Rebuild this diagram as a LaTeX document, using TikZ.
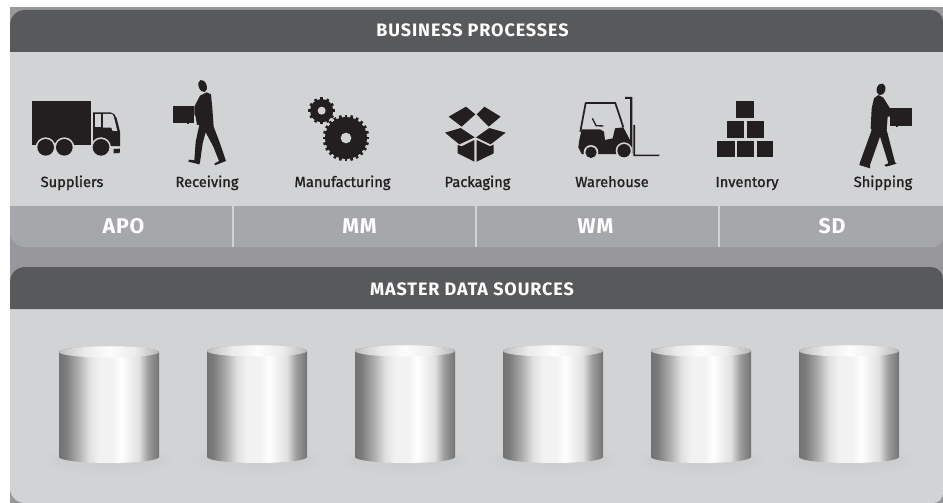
\documentclass[tikz,border=0pt]{standalone}
\usepackage{fontspec}
\setmainfont{Fira Sans}
\newfontfamily\headfont[LetterSpace=5.0]{Fira Sans}
\newfontfamily\tabfont[LetterSpace=4.0]{Fira Sans}
\newfontfamily\labelfont[FakeBold=1.2]{Fira Sans}
\definecolor{dkpanel}{HTML}{58595B}
\definecolor{ltpanel}{HTML}{D2D3D5}
\definecolor{tabband}{HTML}{A6A7AA}
\definecolor{gapgray}{HTML}{98989C}
\definecolor{ink}{HTML}{231F20}
\pgfdeclarehorizontalshading{cylbody}{100bp}{color(0bp)=(black!55);color(25bp)=(black!55);color(28bp)=(black!52);color(35bp)=(black!30);color(40bp)=(black!12);color(45bp)=(black!5);color(51.5bp)=(black!5);color(56bp)=(white);color(65bp)=(black!12);color(69.5bp)=(black!38);color(75bp)=(black!55);color(100bp)=(black!55)}
\pgfdeclarehorizontalshading{cyltop}{100bp}{color(0bp)=(black!25);color(25bp)=(black!25);color(37.5bp)=(black!8);color(50bp)=(black!1);color(62.5bp)=(black!7);color(75bp)=(black!28);color(100bp)=(black!28)}
\tikzset{
  headlabel/.style={text=white,font=\fontsize{13.5pt}{15pt}\headfont\bfseries,inner sep=0pt,anchor=base},
  tablabel/.style={text=white,font=\fontsize{16pt}{18pt}\tabfont\bfseries,inner sep=0pt,anchor=base},
  iconlabel/.style={text=ink,font=\fontsize{11pt}{13pt}\labelfont,inner sep=0pt,anchor=base},
  tabsep/.style={draw=ltpanel,line width=1.9pt},
  icon/.style={fill=ink,draw=none},
  ring/.style={fill=ltpanel,draw=none},
  zoomed/.style={x=.25pt,y=-.25pt},
}
\newcommand{\cylinder}[2]{%
  \fill[black,opacity=.004] (#1+50,460) ellipse [x radius=66,y radius=18];
  \fill[black,opacity=.004] (#1+50,460) ellipse [x radius=62,y radius=15];
  \fill[black,opacity=.005] (#1+50,460) ellipse [x radius=58,y radius=12];
  \fill[black,opacity=.006] (#1+50,460) ellipse [x radius=54,y radius=9];
  \path[shading=cylbody] (#1,#2) -- (#1,457) arc [start angle=180,end angle=360,x radius=50,y radius=-6] -- (#1+100,#2) arc [start angle=0,end angle=180,x radius=50,y radius=-5.5] -- cycle;
  \path[shading=cyltop] (#1+50,#2) ellipse [x radius=50,y radius=5.6];
}
\begin{document}
\begin{tikzpicture}[x=.75pt,y=-.75pt]
\useasboundingbox (0,0) rectangle (943,503);
\fill[white] (0,0) rectangle (943,503);
\fill[gapgray] (10,7) rectangle (943,503);
% top panel
\fill[tabband] (10,200) -- (10,232) arc [start angle=180,end angle=270,x radius=15,y radius=-15] -- (933,247) arc [start angle=270,end angle=360,x radius=10,y radius=-10] -- (943,200) -- cycle;
\fill[ltpanel] (10,50) rectangle (943,206);
\fill[dkpanel] (10,52) -- (10,25) arc [start angle=180,end angle=90,x radius=15,y radius=-15] -- (931,10) arc [start angle=90,end angle=0,x radius=12,y radius=-12] -- (943,52) -- cycle;
\foreach \sx in {233,476,719} \draw[tabsep] (\sx,206) -- (\sx,247);
% bottom panel
\fill[ltpanel] (10,305) -- (10,488) arc [start angle=180,end angle=270,x radius=15,y radius=-15] -- (933,503) arc [start angle=270,end angle=360,x radius=10,y radius=-10] -- (943,305) -- cycle;
\fill[dkpanel] (10,309) -- (10,282) arc [start angle=180,end angle=90,x radius=15,y radius=-15] -- (931,267) arc [start angle=90,end angle=0,x radius=12,y radius=-12] -- (943,309) -- cycle;
% labels
\node[headlabel] (bp) at (472.5,37) {BUSINESS PROCESSES};
\node[headlabel] (md) at (472,295.5) {MASTER DATA SOURCES};
\node[tablabel] (apo) at (123.5,233) {APO};
\node[tablabel] (mm) at (359.5,233) {MM};
\node[tablabel] (wm) at (595.5,233) {WM};
\node[tablabel] (sd) at (832,233) {SD};
\node[iconlabel] (l1) at (72,187) {Suppliers};
\node[iconlabel] (l2) at (207,187) {Receiving};
\node[iconlabel] (l3) at (342.5,187) {Manufacturing};
\node[iconlabel] (l4) at (477.5,187) {Packaging};
\node[iconlabel] (l5) at (612,187) {Warehouse};
\node[iconlabel] (l6) at (747,187) {Inventory};
\node[iconlabel] (l7) at (883,187) {Shipping};
% cylinders
\cylinder{59}{352}
\cylinder{207}{351}
\cylinder{355}{351}
\cylinder{503}{351}
\cylinder{651}{351}
\cylinder{799}{351}
% truck
\begin{scope}[shift={(20,90)},zoomed]
\fill[icon] (37,34) rectangle (213,165);
\fill[icon] (219,67) -- (272,67) to[out=0,in=120] (290,85) -- (300,125) -- (300,168) -- (219,168) -- cycle;
\fill[ltpanel] (226,72) rectangle (244,112);
\fill[ltpanel] (249,72) -- (274,72) to[out=0,in=120] (284,90) -- (292,123) -- (278,123) -- (274,113) -- (249,113) -- cycle;
\fill[icon] (281,177) -- (300,176) -- (299,189) -- (281,190) -- cycle;
\foreach \wx in {77,133,243} {
  \fill[ring] (\wx,172) circle [radius=30];
  \fill[icon] (\wx,172) circle [radius=25];
}
\end{scope}
% receiving person
\begin{scope}[shift={(165,75)},zoomed]
\fill[icon] (24,92) rectangle (88,143);
\fill[icon] (66,143) rectangle (71,147);
\fill[icon,rotate around={20:(113,33)}] (113,33) ellipse [x radius=12,y radius=19];
\fill[icon] (105,62) -- (125,52) -- (138,58) -- (142,100) -- (146,155) -- (165,205) -- (183,258) -- (170,263) -- (150,271) -- (148,266) -- (162,258) -- (145,215) -- (122,172) -- (113,205) -- (105,262) -- (103,268) -- (70,260) -- (72,254) -- (88,256) -- (92,200) -- (103,150) -- (96,150) -- (92,125) -- (88,118) -- (88,95) -- cycle;
\end{scope}
% gears
\begin{scope}[shift={(280,80)},zoomed]
\fill[icon] (125,92) circle [radius=35];
\foreach \ga in {0,30,...,330} \draw[ink,line width=2pt] (125,92) ++(\ga:30) -- ++(\ga:10);
\fill[ltpanel] (125,92) circle [radius=12];
\fill[icon] (198,174) circle [radius=63];
\foreach \ga in {0,15,...,345} \draw[ink,line width=2pt] (198,174) ++(\ga:58) -- ++(\ga:12);
\fill[ltpanel] (198,174) circle [radius=16];
\end{scope}
% box
\begin{scope}[shift={(440,100)},zoomed]
\fill[icon] (78,20) -- (106,43) -- (65,80) -- (26,50) -- cycle;
\fill[icon] (133,20) -- (182,50) -- (146,80) -- (110,43) -- cycle;
\fill[icon] (62,84) -- (104,112) -- (58,133) -- (15,98) -- cycle;
\fill[icon] (148,84) -- (197,98) -- (152,133) -- (108,112) -- cycle;
\fill[icon] (53,135) -- (65,139) -- (103,120) -- (103,185) -- (53,160) -- cycle;
\fill[icon] (110,120) -- (150,139) -- (161,134) -- (161,160) -- (110,185) -- cycle;
\end{scope}
% forklift
\begin{scope}[shift={(570,90)},zoomed]
\fill[icon] (165,21) -- (187,21) -- (187,190) -- (180,190) -- (180,27) -- (165,27) -- cycle;
\fill[icon] (190,105) -- (195,105) -- (195,194) -- (268,194) -- (268,198) -- (190,198) -- cycle;
\draw[ink,line width=1.3pt,line join=round] (31,125) -- (47,39) -- (136,39) -- (160,112);
\draw[ink,line width=1pt] (67,85) -- (78,107) -- (100,108);
\fill[icon] (28,150) -- (35,118) -- (90,118) -- (102,125) -- (105,150) -- (128,145) -- (135,115) -- (160,112) -- (180,150) -- (180,192) -- (35,192) -- (25,172) -- cycle;
\fill[ring] (63,187) circle [radius=22];
\fill[icon] (63,187) circle [radius=17];
\fill[ring] (162,182) circle [radius=25];
\fill[icon] (162,182) circle [radius=20];
\end{scope}
% inventory
\begin{scope}[shift={(680,0)},zoomed]
\fill[icon] (169,304) rectangle (221,355);
\fill[icon] (142,362) rectangle (193,414);
\fill[icon] (200,362) rectangle (251,414);
\fill[icon] (112,422) rectangle (164,472);
\fill[icon] (170,422) rectangle (221,472);
\fill[icon] (230,422) rectangle (279,472);
\end{scope}
% shipping person
\begin{scope}[shift={(850,75)},zoomed]
\fill[icon] (120,98) rectangle (187,152);
\fill[icon] (138,152) rectangle (143,157);
\fill[icon,rotate around={-15:(93,43)}] (93,43) ellipse [x radius=13,y radius=18];
\fill[icon] (72,70) -- (85,60) -- (100,68) -- (120,100) -- (122,125) -- (113,125) -- (110,165) -- (135,262) -- (140,266) -- (108,275) -- (103,270) -- (115,265) -- (90,185) -- (60,270) -- (60,280) -- (28,270) -- (30,262) -- (65,165) -- (62,160) -- (65,100) -- cycle;
\end{scope}
\end{tikzpicture}
\end{document}
